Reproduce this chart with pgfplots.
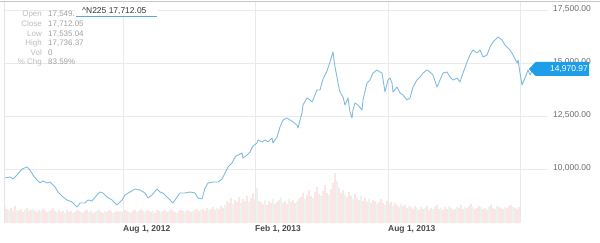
\documentclass[border=0pt]{standalone}
\usepackage{pgfplots}
\pgfplotsset{compat=1.18}
\usepackage{fontspec}
\setmainfont{Liberation Sans}
\definecolor{linec}{RGB}{128,188,224}
\definecolor{gridc}{RGB}{234,234,234}
\definecolor{volr}{RGB}{241,184,184}
\definecolor{volg}{RGB}{190,224,200}
\definecolor{boxc}{RGB}{30,158,232}
\definecolor{tipl}{RGB}{188,188,188}
\definecolor{tipv}{RGB}{160,160,160}
\definecolor{ulc}{RGB}{90,168,220}
\begin{document}
\begin{tikzpicture}
\path[use as bounding box] (0bp,0bp) rectangle (600bp,243bp);
% volume
\begin{axis}[at={(4bp,20bp)}, anchor=south west, scale only axis,
  width=544bp, height=221bp, xmin=4, xmax=548, ymin=0, ymax=221,
  axis lines=none, clip=false, ybar, bar width=0.9bp, bar shift=0pt]
\addplot[draw=none, fill=volr] coordinates {
(5,16)(7,14)(11,15)(13,12)(15,17)(19,12)(21,14)(23,11)(27,15)(29,12)(31,13)(35,12)(37,11)(39,13)(43,14)(45,13)(47,11)(51,13)(53,15)(55,12)(59,13)
(61,11)(63,12)(67,13)(69,11)(71,12)(75,11)(77,13)(79,12)(83,10)(85,12)(87,13)(91,12)(93,10)(95,11)(99,13)(101,11)(103,10)(107,11)(109,13)(111,12)(115,11)(117,12)(119,11)
(123,11)(125,13)(127,12)(131,10)(133,12)(135,13)(139,12)(141,14)(143,12)(147,13)(149,12)(151,11)(155,10)(157,13)(159,12)(163,12)(165,13)(167,11)(171,14)(173,12)(175,11)(179,12)(181,13)(183,12)(187,13)(189,12)(191,11)(195,13)(197,14)(199,12)
(203,14)(205,12)(207,15)(211,14)(213,16)(215,13)(219,14)(221,17)(223,15)
(227,22)(229,20)(231,25)(235,23)(237,21)(239,26)(243,24)(245,22)(247,27)(251,25)(253,30)(255,24)(259,22)
(261,21)(263,19)(267,18)(269,22)(271,20)(275,19)(277,21)(279,23)(283,20)(285,22)(287,19)(291,21)(293,23)(295,20)(299,24)
(301,26)(303,30)(307,28)(309,33)(311,27)(315,31)(317,36)(319,29)(323,32)(325,38)(327,30)(331,34)(333,40)(335,50)
(339,35)(341,30)(343,33)(347,26)(349,31)(351,27)(355,29)(357,25)(359,23)(363,22)(365,25)(367,21)(371,20)(373,23)(375,22)(379,21)(381,24)(383,20)(387,22)(389,19)(391,21)(395,20)(397,18)(399,16)(403,17)(405,18)(407,15)
(411,16)(413,14)(415,17)(419,13)(421,16)(423,14)(427,17)(429,13)(431,15)(435,16)(437,18)(439,14)(443,13)(445,16)(447,14)(451,15)(453,13)(455,14)(459,15)(461,18)(463,14)(467,15)(469,17)(471,19)(475,14)(477,15)(479,17)(483,14)(485,15)(487,13)(491,18)(493,15)(495,14)(499,16)(501,15)(503,14)(507,15)(509,17)(511,18)(515,15)(517,14)(519,16)
};
\addplot[draw=none, fill=volg] coordinates {
(9,13)(17,13)(25,13)(33,14)(41,12)(49,12)(57,11)(65,10)(73,10)(81,11)(89,11)(97,12)(105,12)(113,10)(121,12)(129,11)(137,11)(145,11)(153,12)(161,11)(169,12)(177,10)(185,11)(193,12)(201,13)(209,13)(217,15)(225,18)(233,19)(241,20)(249,21)(257,35)(265,23)(273,24)(281,25)(289,24)(297,22)(305,24)(313,25)(321,27)(329,28)(337,42)(345,28)(353,24)(361,27)(369,24)(377,19)(385,18)(393,17)(401,19)(409,17)(417,15)(425,15)(433,14)(441,15)(449,17)(457,16)(465,16)(473,16)(481,16)(489,16)(497,17)(505,16)(513,16)
};
\end{axis}
% price
\begin{axis}[at={(4bp,20bp)}, anchor=south west, scale only axis,
  width=544bp, height=221bp, xmin=4, xmax=548, ymin=7452.8, ymax=17877.4,
  axis line style={draw=none}, major tick length=0pt,
  xtick={123,255,388,520},
  xticklabels={{Aug 1, 2012},{Feb 1, 2013},{Aug 1, 2013},{}},
  ytick={10000,12500,15000,17500},
  yticklabels={{10,000.00},{12,500.00},{15,000.00},{17,500.00}},
  yticklabel pos=right,
  grid=major, grid style={gridc, line width=0.7bp},
  xticklabel style={anchor=north west, inner sep=0pt, yshift=-2bp,
    font=\fontsize{8.5}{10}\selectfont\bfseries, text=black!72},
  yticklabel style={anchor=base east, inner sep=0pt, xshift=43bp, yshift=-1.5bp,
    font=\fontsize{8.5}{10}\selectfont, text=black!58},
  clip=false]
\addplot[linec, line width=0.9bp, line join=round] coordinates {
(4,9575)(10,9623)(13,9528)(17,9717)(22,10000)(27,10094)(30,9953)(33,9717)(37,9481)(40,9340)(43,9434)(47,9340)(50,9387)(55,9151)(58,8915)(63,8679)(67,8538)(72,8443)(77,8208)(80,8396)(85,8396)(88,8538)(92,8491)(97,8774)(100,8915)(103,8868)(107,8679)(112,8538)(117,8302)(122,8538)
(125,8774)(130,8915)(135,9057)(140,9009)(145,8868)(148,8632)(152,8774)(157,9057)(160,8915)(163,8868)(167,8679)(170,8538)(173,8396)(177,8679)(180,8868)(185,8868)(190,8915)(195,8868)(198,8632)(202,8585)(205,9104)(208,9340)(213,9387)(218,9387)(222,9528)
(225,9811)(228,10094)(232,10283)(235,10566)(238,10660)(242,10755)(243,10519)(247,10660)(250,10802)(253,11085)(257,11226)(258,11368)(262,11274)(265,11368)(268,11274)(272,11462)(273,11226)(277,11509)(280,11981)(283,12311)(287,12406)(290,12311)(293,12217)(297,12075)(298,11934)(300,12311)(302,12642)(303,13019)(307,13349)(310,13255)(312,13160)(315,13491)(317,13726)(320,13726)(323,14245)(327,14623)(330,15047)(333,15519)
(335,14811)(337,14340)(338,14057)(340,13632)(343,13396)(345,13019)(348,13349)(350,12689)(352,12406)(353,12783)(355,13113)(358,13019)(362,12783)(363,13255)(367,14057)(370,14198)(373,14528)(377,14670)(380,14575)(382,14528)(385,13632)(388,14198)(390,14292)(392,14057)(393,13632)(397,13868)(400,13585)(403,13491)(407,13255)(410,13349)(413,13868)(417,14198)(420,14340)(423,14528)(427,14670)(430,14575)(433,14434)(437,13868)(440,14198)(443,14528)(447,14575)(450,14340)
(453,14198)(457,14292)(460,14104)(463,14528)(467,15047)(470,15377)(473,15613)(477,15472)(480,15613)(483,15283)(487,15377)(490,15755)(493,15991)(498,16226)(502,16085)(505,15849)(507,15755)(510,15613)(513,15377)(517,15000)(518,15141)(520,14528)(522,13962)(525,14292)(528,14670)(530,14434)(533,14700)
};
\end{axis}
% frame lines
\draw[black!22, line width=0.8bp] (0bp,241.4bp) -- (600bp,241.4bp);
\draw[black!10, line width=0.6bp] (4bp,20bp) -- (4bp,241.4bp);
% last price box
\fill[boxc] (529bp,174bp) -- (535.5bp,181bp) -- (589bp,181bp) -- (589bp,167bp) -- (535.5bp,167bp) -- cycle;
\node[anchor=base east, inner sep=0pt, text=white, font=\fontsize{8.5}{10}\selectfont] at (588bp,171bp) {14,970.97};
% tooltip
\begin{scope}[font=\fontsize{8}{9}\selectfont]
\node[anchor=base east, inner sep=0pt, text=tipl] at (42bp,226bp) {Open};
\node[anchor=base east, inner sep=0pt, text=tipl] at (42bp,216.4bp) {Close};
\node[anchor=base east, inner sep=0pt, text=tipl] at (42bp,206.8bp) {Low};
\node[anchor=base east, inner sep=0pt, text=tipl] at (42bp,197.2bp) {High};
\node[anchor=base east, inner sep=0pt, text=tipl] at (42bp,187.6bp) {Vol};
\node[anchor=base east, inner sep=0pt, text=tipl] at (42bp,178bp) {\% Chg};
\node[anchor=base west, inner sep=0pt, text=tipv] at (48bp,226bp) {17,549.81};
\node[anchor=base west, inner sep=0pt, text=tipv] at (48bp,216.4bp) {17,712.05};
\node[anchor=base west, inner sep=0pt, text=tipv] at (48bp,206.8bp) {17,535.04};
\node[anchor=base west, inner sep=0pt, text=tipv] at (48bp,197.2bp) {17,736.37};
\node[anchor=base west, inner sep=0pt, text=tipv] at (48bp,187.6bp) {0};
\node[anchor=base west, inner sep=0pt, text=tipv] at (48bp,178bp) {83.59\%};
\end{scope}
\fill[white] (75bp,227bp) rectangle (158bp,239bp);
\node[anchor=base west, inner sep=0pt, text=black!80, font=\fontsize{8.5}{10}\selectfont] at (82bp,229.5bp) {\textasciicircum N225 17,712.05};
\draw[ulc, line width=0.9bp] (76bp,226.5bp) -- (157bp,226.5bp);
\end{tikzpicture}
\end{document}
